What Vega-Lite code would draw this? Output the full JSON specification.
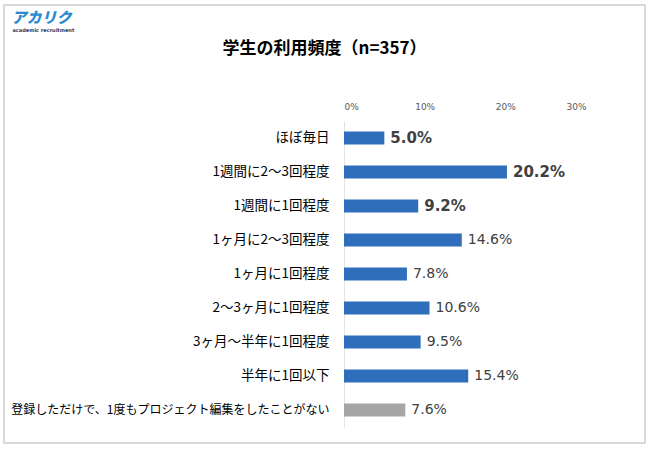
{
  "$schema": "https://vega.github.io/schema/vega-lite/v6.json",
  "width": 641,
  "height": 438,
  "autosize": {"type": "none"},
  "padding": {"left": 4, "top": 5, "right": 5, "bottom": 7},
  "background": "white",
  "config": {"view": {"stroke": "#D9D9D9", "strokeWidth": 2}},
  "title": {
    "text": "学生の利用頻度（n=357）",
    "font": "Noto Sans CJK JP",
    "fontSize": 17,
    "fontWeight": "bold",
    "color": "#000000",
    "anchor": "middle",
    "frame": "group",
    "baseline": "middle",
    "offset": -61
  },
  "data": {
    "values": [
      {"category": "ほぼ毎日", "value": 0.050},
      {"category": "1週間に2～3回程度", "value": 0.202},
      {"category": "1週間に1回程度", "value": 0.092},
      {"category": "1ヶ月に2～3回程度", "value": 0.146},
      {"category": "1ヶ月に1回程度", "value": 0.078},
      {"category": "2～3ヶ月に1回程度", "value": 0.106},
      {"category": "3ヶ月～半年に1回程度", "value": 0.095},
      {"category": "半年に1回以下", "value": 0.154},
      {"category": "登録しただけで、1度もプロジェクト編集をしたことがない", "value": 0.076}
    ]
  },
  "encoding": {
    "y": {
      "field": "category",
      "type": "nominal",
      "sort": null,
      "scale": {"range": [116, 422], "paddingInner": 0.62, "paddingOuter": 0.31},
      "axis": {
        "orient": "left",
        "offset": -340,
        "domain": true,
        "domainColor": "#E3E3E3",
        "domainWidth": 1,
        "ticks": false,
        "grid": false,
        "labelPadding": 15,
        "labelFont": "Noto Sans CJK JP",
        "labelFontSize": {"condition": {"test": "datum.value === '登録しただけで、1度もプロジェクト編集をしたことがない'", "value": 12}, "value": 13.5},
        "labelColor": "#000000",
        "labelLimit": 500,
        "title": "アカリク",
        "titleAngle": 0,
        "titleX": -333,
        "titleY": 12,
        "titleAlign": "left",
        "titleBaseline": "middle",
        "titleFont": "Noto Sans CJK JP",
        "titleFontSize": 15,
        "titleFontWeight": 900,
        "titleFontStyle": "italic",
        "titleColor": "#2A8BD0"
      }
    },
    "x": {
      "field": "value",
      "type": "quantitative",
      "scale": {"domain": [0, 0.3], "range": [340, 582]},
      "axis": {
        "orient": "top",
        "offset": -108,
        "values": [0, 0.1, 0.2, 0.3],
        "format": ".0%",
        "grid": false,
        "domain": false,
        "ticks": false,
        "labelPadding": 2,
        "labelFont": "DejaVu Sans",
        "labelFontSize": 9,
        "labelColor": "#595959",
        "title": "academic recruitment",
        "titleX": 8,
        "titleY": -84,
        "titleAlign": "left",
        "titleBaseline": "middle",
        "titleFont": "DejaVu Sans",
        "titleFontSize": 5,
        "titleFontWeight": "bold",
        "titleColor": "#1F3864"
      }
    }
  },
  "layer": [
    {
      "mark": {"type": "bar"},
      "encoding": {
        "color": {
          "condition": {"test": "datum.category === '登録しただけで、1度もプロジェクト編集をしたことがない'", "value": "#A6A6A6"},
          "value": "#2F6EBA"
        }
      }
    },
    {
      "transform": [{"filter": {"field": "category", "oneOf": ["ほぼ毎日", "1週間に2～3回程度", "1週間に1回程度"]}}],
      "mark": {"type": "text", "align": "left", "baseline": "middle", "dx": 6, "font": "DejaVu Sans", "fontSize": 15, "fontWeight": "bold", "color": "#404040"},
      "encoding": {"text": {"field": "value", "type": "quantitative", "format": ".1%"}}
    },
    {
      "transform": [{"filter": {"not": {"field": "category", "oneOf": ["ほぼ毎日", "1週間に2～3回程度", "1週間に1回程度"]}}}],
      "mark": {"type": "text", "align": "left", "baseline": "middle", "dx": 6, "font": "DejaVu Sans", "fontSize": 14, "color": "#404040"},
      "encoding": {"text": {"field": "value", "type": "quantitative", "format": ".1%"}}
    }
  ]
}
